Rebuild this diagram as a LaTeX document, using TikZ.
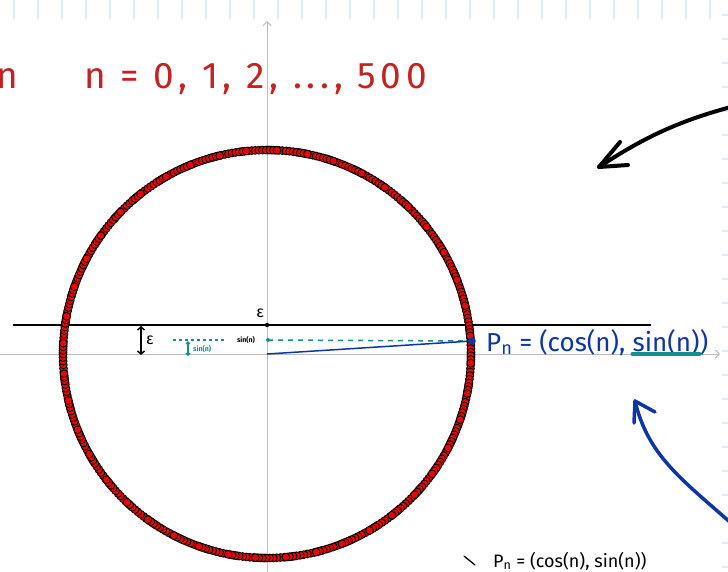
\documentclass[tikz,border=0pt]{standalone}
\usepackage{fontspec}
\setmainfont{Fira Sans}
\newfontfamily\handfont[LetterSpace=13]{Fira Sans}
\usetikzlibrary{arrows.meta}
\definecolor{hred}{HTML}{C62020}
\definecolor{hblue}{HTML}{0A36A8}
\definecolor{hteal}{HTML}{11918A}
\definecolor{gridtick}{HTML}{DCEBF8}
\definecolor{axisgray}{HTML}{BDBDBD}
\definecolor{dotred}{HTML}{F00000}
\tikzset{
  gtick/.style={gridtick, line width=1.3pt},
  axisline/.style={axisgray, line width=0.9pt, -{Straight Barb[length=4pt,width=8pt]}},
  ringdot/.style={fill=dotred, draw=black, line width=0.9pt},
  hand/.style={line width=4pt, line cap=round, line join=round},
  title/.style={hred, font=\handfont\fontsize{37}{40}\selectfont, inner sep=0pt},
  bluelabel/.style={hblue, font=\fontsize{26}{28}\selectfont, inner sep=0pt},
  tiny/.style={font=\fontsize{7}{8}\selectfont\bfseries, inner sep=0pt},
}
\begin{document}
\begin{tikzpicture}[x=1pt,y=-1pt]
\useasboundingbox (0,0) rectangle (728,571);
\clip (0,0) rectangle (728,571);
% grid ticks
\foreach \i in {0,...,29} \draw[gtick] ({14+24*\i},0) -- ({14+24*\i},19);
\foreach \j in {0,...,23} \draw[gtick] (722,{15+24*\j}) -- (729,{15+24*\j});
% axes
\coordinate (O) at (267,354);
\coordinate (xs) at (0,354);
\coordinate (xe) at (720,354);
\coordinate (ys) at (267,575);
\coordinate (ye) at (267,21);
\draw[axisline] (xs) -- (xe);
\draw[axisline] (ys) -- (ye);
% epsilon line
\coordinate (el) at (13,325);
\coordinate (er) at (651,325);
\draw[line width=2pt] (el) -- (er);
\coordinate (E) at (267,325);
\fill (E) circle (2.2);
\node[font=\fontsize{16}{18}\selectfont, inner sep=0pt] (epsT) at (260,313) {ε};
% ring of points
\begin{scope}[shift={(267,354)}]
\foreach \q in {0,...,5}{
  \foreach \r in {0,...,99}{
    \pgfmathtruncatemacro\nn{100*\q+\r}
    \ifnum\nn<501
      \filldraw[ringdot] ({\q*329.578+\r*57.29578}:204) circle (3.9);
    \fi
  }
}
\end{scope}
% teal dotted line and sin label
\coordinate (t1) at (173,340);
\coordinate (t2) at (226,340);
\coordinate (t3) at (268,340);
\coordinate (P) at (472,341);
\draw[hteal, line width=1.5pt, dash pattern=on 2.5pt off 3.5pt] (t1) -- (t2);
\draw[hteal, line width=1.5pt, dash pattern=on 5pt off 5pt] (t3) -- (P);
\fill[hteal] (t3) circle (2);
\node[tiny] (sinlab) at (246,340) {sin(n)};
% small teal arrow
\coordinate (sa1) at (188,341);
\coordinate (sa2) at (188,356);
\draw[hteal, line width=1.3pt, {Straight Barb[length=2pt,width=4pt]}-{Straight Barb[length=2pt,width=4pt]}] (sa1) -- (sa2);
\node[tiny, hteal, anchor=west] (sinlab2) at (193,349) {sin(n)};
% epsilon arrow
\coordinate (ea1) at (141,326);
\coordinate (ea2) at (141,355);
\draw[line width=1.5pt, {Straight Barb[length=3pt,width=7pt]}-{Straight Barb[length=3pt,width=7pt]}] (ea1) -- (ea2);
\node[font=\fontsize{16}{18}\selectfont, inner sep=0pt, anchor=west] (epsL) at (146,340) {ε};
% blue radius
\draw[hblue, line width=1.5pt] (O) -- (P);
\fill[hblue] (P) circle (3.8);
\node[bluelabel, anchor=base west] (PlabA) at (486,351) {P\textsubscript{n} = (cos(n),};
\node[bluelabel, anchor=base west] (PlabB) at ([xshift=7pt]PlabA.base east) {sin(n)};
\node[bluelabel, anchor=base west] (PlabC) at (PlabB.base east) {)};
\draw[hteal, line width=4pt, line cap=round] ([yshift=-3pt]PlabB.base west) -- ([yshift=-3pt]PlabB.base east);
% title
\node[title, anchor=base west] (tn) at (-4,88) {n};
\node[title, anchor=base west] (tt) at (84,88) {n = 0, 1, 2, ..., 500};
% black arrow
\coordinate (ba0) at (731,107);
\coordinate (ba1) at (599,167);
\coordinate (bh1) at (620,142);
\coordinate (bh2) at (628,165);
\draw[hand] (ba0) .. controls (675,122) and (640,140) .. (ba1);
\draw[hand] (bh1) -- (ba1) -- (bh2);
% blue arrow
\coordinate (la0) at (731,523);
\coordinate (la1) at (635,401);
\coordinate (lh1) at (634,423);
\coordinate (lh2) at (655,412);
\draw[hand, hblue, line width=3.5pt] (la0) .. controls (680,478) and (648,455) .. (la1);
\draw[hand, hblue, line width=3.5pt] (lh1) -- (la1) -- (lh2);
% bottom text
\coordinate (s1) at (464,556);
\coordinate (s2) at (475,565);
\draw[line width=1.3pt, line cap=round] (s1) -- (s2);
\node[font=\fontsize{18}{20}\selectfont, inner sep=0pt, anchor=base west] (bt) at (493,567) {P\textsubscript{n} = (cos(n), sin(n))};
\end{tikzpicture}
\end{document}
